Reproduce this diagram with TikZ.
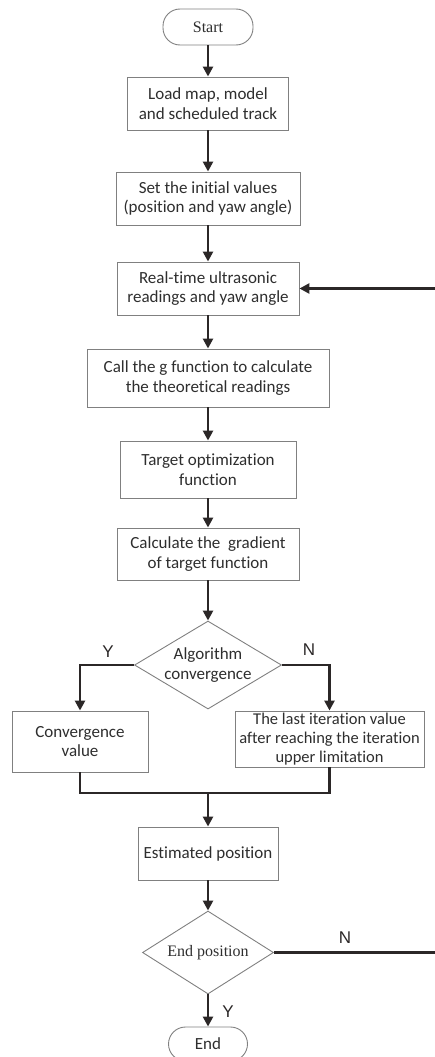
\documentclass[tikz,border=0pt]{standalone}
\usepackage{fontspec}
\usetikzlibrary{arrows.meta,shapes.geometric}
\newfontfamily\boxfont[Ligatures=NoCommon]{Carlito}
\newfontfamily\serfont{Liberation Serif}
\newfontfamily\labfont{Liberation Sans}
\definecolor{linec}{HTML}{2B2727}
\definecolor{borderc}{HTML}{808080}
\definecolor{textc}{HTML}{2E2E2E}
\tikzset{
  box/.style={draw=borderc, line width=0.9pt, fill=white, rectangle, inner sep=0pt, align=center, text=textc, font=\boxfont\fontsize{17}{19.5}\selectfont},
  term/.style={box, rounded corners=17pt},
  dec/.style={draw=borderc, line width=0.9pt, fill=white, diamond, inner sep=0pt},
  dtext/.style={align=center, text=textc, inner sep=0pt},
  arr/.style={draw=linec, line width=2.5pt, -{Triangle[length=10pt,width=10pt]}},
  ln/.style={draw=linec, line width=2.5pt},
  yn/.style={text=linec, inner sep=0pt, font=\labfont\fontsize{17}{17}\selectfont}
}
\begin{document}
\begin{tikzpicture}[x=1pt,y=-1pt]
\useasboundingbox (0,0) rectangle (435,1057);
\node[term, minimum width=90, minimum height=36, font=\serfont\fontsize{16}{19}\selectfont] (start) at (208,27) {Start};
\node[box, minimum width=161, minimum height=53] (b1) at (208,103.5) {Load map, model\\and scheduled track};
\node[box, minimum width=184, minimum height=53] (b2) at (208,198.5) {Set the initial values\\(position and yaw angle)};
\node[box, minimum width=182, minimum height=53] (b3) at (208,288.5) {Real-time ultrasonic\\readings and yaw angle};
\node[box, minimum width=242, minimum height=58] (b4) at (208,378) {Call the g function to calculate\\the theoretical readings};
\node[box, minimum width=176, minimum height=57] (b5) at (208,469.5) {Target optimization\\function};
\node[box, minimum width=182, minimum height=52] (b6) at (208,554) {Calculate the\ \ gradient\\of target function};
\node[dec, minimum width=147, minimum height=88] (d1) at (208,665) {};
\node[dtext, font=\boxfont\fontsize{17}{19.5}\selectfont] (d1t) at (d1) {Algorithm\\convergence};
\node[box, minimum width=136, minimum height=61] (by) at (80,741.5) {Convergence\\value};
\node[box, minimum width=189, minimum height=56, font=\boxfont\fontsize{16.5}{19}\selectfont] (bn) at (329.5,739) {The last iteration value\\after reaching the iteration\\upper limitation};
\coordinate (m) at (208,793);
\node[box, minimum width=140, minimum height=53] (b7) at (208,853.5) {Estimated position};
\node[dec, minimum width=131, minimum height=83] (d2) at (208,952.5) {};
\node[dtext, font=\serfont\fontsize{16}{19}\selectfont] (d2t) at (d2) {End position};
\node[term, minimum width=79, minimum height=34] (end) at (208,1044) {End};
\coordinate (loopx) at (437.5,0);

\draw[arr] (start) -- (b1);
\draw[arr] (b1) -- (b2);
\draw[arr] (b2) -- (b3);
\draw[arr] (b3) -- (b4);
\draw[arr] (b4) -- (b5);
\draw[arr] (b5) -- (b6);
\draw[arr] (b6) -- (d1);
\draw[arr] (d1.west) -| (by.north);
\draw[arr] (d1.east) -| (bn.north);
\draw[ln] (by.south) -- (by.south |- m) -- (bn.south |- m) -- (bn.south);
\draw[arr] (m) -- (b7);
\draw[arr] (b7) -- (d2);
\draw[arr] (d2) -- (end);
\draw[arr] (d2.east) -- (d2.east -| loopx) |- (b3.east);

\node[yn] (ly1) at (108,652) {Y};
\node[yn] (ln1) at (309,650) {N};
\node[yn] (ln2) at (345,938) {N};
\node[yn] (ly2) at (228,1012) {Y};
\end{tikzpicture}
\end{document}
